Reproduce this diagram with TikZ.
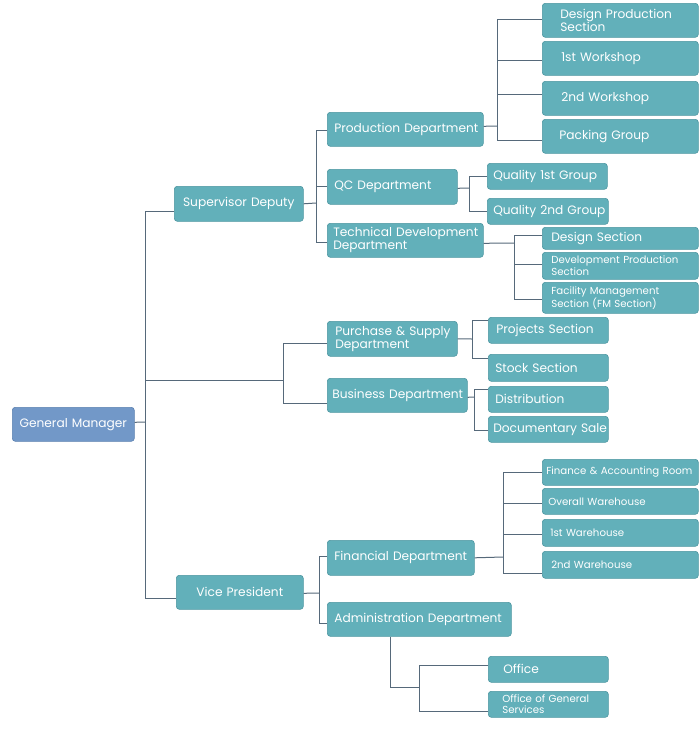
\documentclass[tikz,border=0pt]{standalone}
\usepackage{fontspec}
\setmainfont{Poppins}
\usetikzlibrary{calc}
\definecolor{tealfill}{HTML}{62B0BA}
\definecolor{tealedge}{HTML}{4C96A0}
\definecolor{bluefill}{HTML}{7298C8}
\definecolor{blueedge}{HTML}{5A80B0}
\definecolor{linecol}{HTML}{56697A}
\newcommand\nohyph{\lefthyphenmin=62 \righthyphenmin=62 \hyphenpenalty=10000 \hfuzz=200pt \hbadness=10000 }
\newcommand\bigf{\fontsize{12.2}{13}\selectfont\nohyph}
\newcommand\smallf{\fontsize{10.2}{11.6}\selectfont\nohyph}
% name, x, y, w, h, pad, text
\newcommand\mybox[8][]{%
  \node[box,#1,minimum width=#5pt,minimum height=#6pt,inner xsep=#7pt,
        text width=\the\numexpr #5-2*#7\relax pt] (#2) at (#3pt,-#4pt) {#8};}
\tikzset{
  box/.style={draw=tealedge,fill=tealfill,rounded corners=3pt,text=white,
    font=\bigf,anchor=north west,inner ysep=0pt,align=left,line width=0.6pt},
  ctr/.style={align=center},
  gm/.style={draw=blueedge,fill=bluefill},
  sm/.style={font=\smallf},
  conn/.style={draw=linecol,line width=1pt}
}
\begin{document}
\begin{tikzpicture}[x=1pt,y=1pt]
\useasboundingbox (0,0) rectangle (700,-732);
% level 0/1
\mybox[gm,ctr]{GM}{12}{407}{122}{34}{2}{General~Manager}
\mybox[ctr]{SD}{174}{186}{129}{35}{2}{Supervisor~Deputy}
\mybox[ctr]{VP}{176}{575}{127}{34}{4}{Vice~President}
% departments
\mybox{PD}{327}{112}{156}{34}{7}{Production~Department}
\mybox{QC}{327}{169}{130}{35}{7}{QC~Department}
\mybox{TD}{327}{223}{156}{34}{6}{Technical~Development\\Department}
\mybox{PS}{327}{321}{130}{35}{8}{Purchase~\&~Supply\\Department}
\mybox{BD}{327}{378}{140}{34}{5}{Business~Department}
\mybox{FD}{327}{540}{147}{35}{7}{Financial~Department}
\mybox{AD}{327}{602}{184}{34}{7}{Administration~Department}
% production children
\mybox{DPS}{542}{3}{156}{34}{18}{Design~Production\\Section}
\mybox{WA}{542}{41}{156}{34}{19}{1st~Workshop}
\mybox{WB}{542}{81}{156}{34}{19}{2nd~Workshop}
\mybox{PG}{542}{119}{156}{34}{17}{Packing~Group}
% QC children
\mybox{QA}{487}{163}{120}{26}{6}{Quality~1st~Group}
\mybox{QB}{487}{198}{121}{26}{6}{Quality~2nd~Group}
% technical children
\mybox{DS}{542}{227}{156}{22}{9}{Design~Section}
\mybox[sm]{DevPS}{542}{252}{156}{27}{9}{Development~Production\\Section}
\mybox[sm]{FMS}{542}{282}{156}{31}{9}{Facility~Management\\Section~(FM~Section)}
% purchase / business children
\mybox{PrS}{488}{317}{120}{26}{8}{Projects~Section}
\mybox{StS}{488}{354}{120}{27}{7}{Stock~Section}
\mybox{Dist}{488}{386}{120}{26}{7}{Distribution}
\mybox{DocS}{488}{416}{120}{26}{5}{Documentary~Sale}
% financial children
\mybox[sm]{FAR}{542}{459}{156}{26}{4}{Finance~\&~Accounting~Room}
\mybox[sm]{OW}{542}{488}{156}{26}{6}{Overall~Warehouse}
\mybox[sm]{WHA}{542}{519}{156}{27}{8}{1st~Warehouse}
\mybox[sm]{WHB}{542}{551}{156}{27}{9}{2nd~Warehouse}
% administration children
\mybox{Off}{488}{656}{120}{26}{15}{Office}
\mybox[sm]{OGS}{488}{691}{120}{26}{14}{Office~of~General\\Services}

% junction coordinates
\coordinate (jGM) at (145,-422);
\coordinate (jMid) at (283,-380);
\coordinate (jSD) at (316,-203);
\coordinate (jVP) at (319,-593);
\coordinate (jPD) at (497,-126);
\coordinate (jQC) at (469,-188);
\coordinate (jTD) at (514,-243);
\coordinate (jPS) at (472,-339);
\coordinate (jBD) at (474,-397);
\coordinate (jFD) at (503,-557);
\coordinate (jADa) at (390,-687);
\coordinate (jAD) at (419,-687);

% general manager
\draw[conn] ([yshift=2pt]GM.east) -- (jGM);
\draw[conn] ([yshift=-7.5pt]SD.west) -| (jGM);
\draw[conn] ([yshift=-6pt]VP.west) -| (jGM);
\draw[conn] (jGM |- jMid) -- (jMid);
\draw[conn] ([yshift=-4.5pt]PS.west) -| (jMid);
\draw[conn] ([yshift=-8pt]BD.west) -| (jMid);
% supervisor deputy
\draw[conn] (SD.east) -- (jSD);
\draw[conn] ([yshift=-1pt]PD.west) -| (jSD);
\draw[conn] (QC.west) -| (jSD);
\draw[conn] ([yshift=-2pt]TD.west) -| (jSD);
% production
\draw[conn] ([yshift=3pt]PD.east) -- (jPD);
\draw[conn] ([yshift=1pt]DPS.west) -| (jPD);
\draw[conn] ([yshift=-2pt]WA.west) -| (jPD);
\draw[conn] ([yshift=4pt]WB.west) -| (jPD);
\draw[conn] ([yshift=-4pt]PG.west) -| (jPD);
% QC
\draw[conn] ([yshift=-1.5pt]QC.east) -- (jQC);
\draw[conn] (QA.west) -| (jQC);
\draw[conn] (QB.west) -| (jQC);
% technical
\draw[conn] ([yshift=-3pt]TD.east) -- (jTD);
\draw[conn] ([yshift=3pt]DS.west) -| (jTD);
\draw[conn] ([yshift=1.5pt]DevPS.west) -| (jTD);
\draw[conn] ([yshift=-1.5pt]FMS.west) -| (jTD);
% purchase
\draw[conn] (PS.east) -- (jPS);
\draw[conn] ([yshift=10pt]PrS.west) -| (jPS);
\draw[conn] ([yshift=9.5pt]StS.west) -| (jPS);
% business
\draw[conn] ([yshift=-2pt]BD.east) -- (jBD);
\draw[conn] ([yshift=10pt]Dist.west) -| (jBD);
\draw[conn] ([yshift=-1pt]DocS.west) -| (jBD);
% vice president
\draw[conn] ([yshift=-1pt]VP.east) -- (jVP);
\draw[conn] ([yshift=1.5pt]FD.west) -| (jVP);
\draw[conn] ([yshift=-4pt]AD.west) -| (jVP);
% financial
\draw[conn] (FD.east) -- (jFD);
\draw[conn] (FAR.west) -| (jFD);
\draw[conn] ([yshift=-2pt]OW.west) -| (jFD);
\draw[conn] ([yshift=-1.5pt]WHA.west) -| (jFD);
\draw[conn] ([yshift=-8.5pt]WHB.west) -| (jFD);
% administration
\draw[conn] (AD.south -| jADa) -- (jADa) -- (jAD);
\draw[conn] ([yshift=4pt]Off.west) -| (jAD);
\draw[conn] ([yshift=-7pt]OGS.west) -| (jAD);
\end{tikzpicture}
\end{document}
